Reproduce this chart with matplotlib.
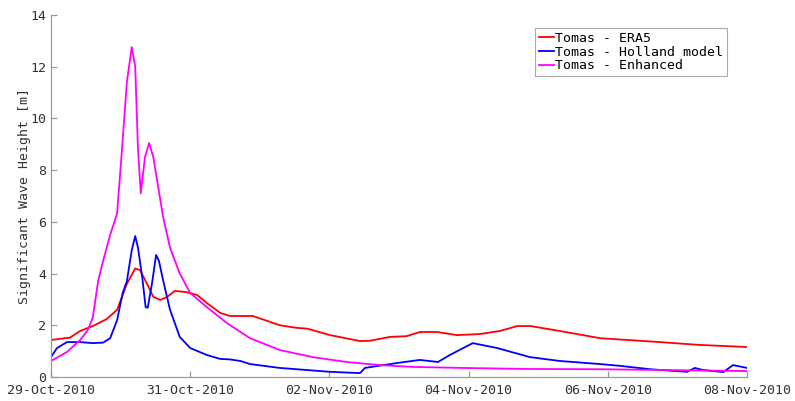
import matplotlib as mpl
mpl.use('Agg')
from matplotlib import pyplot as plt
import matplotlib.dates as mdates
import numpy as np
import datetime

# days since 29-Oct-2010 00:00
era5_t = [0, 0.20, 0.27, 0.42, 0.60, 0.80, 0.95, 1.09, 1.21, 1.28, 1.38, 1.47, 1.57, 1.67,
          1.78, 1.95, 2.10, 2.24, 2.43, 2.57, 2.90, 3.29, 3.53, 3.68, 4.01, 4.44, 4.58,
          4.87, 5.11, 5.30, 5.55, 5.83, 6.16, 6.45, 6.70, 6.89, 7.31, 7.89, 8.75, 9.32, 10.0]
era5_hs = [1.43, 1.5, 1.52, 1.78, 1.97, 2.24, 2.6, 3.6, 4.2, 4.13, 3.6, 3.1, 2.98, 3.1,
           3.33, 3.28, 3.17, 2.86, 2.48, 2.36, 2.36, 2.0, 1.9, 1.87, 1.62, 1.39, 1.4,
           1.55, 1.58, 1.74, 1.74, 1.62, 1.66, 1.78, 1.97, 1.97, 1.78, 1.5, 1.35, 1.24, 1.16]

holl_t = [0, 0.086, 0.23, 0.42, 0.60, 0.75, 0.85, 0.95, 1.03, 1.09, 1.16, 1.21, 1.25, 1.31,
          1.36, 1.39, 1.45, 1.51, 1.55, 1.61, 1.71, 1.85, 2.00, 2.24, 2.43, 2.57, 2.72,
          2.86, 3.29, 4.01, 4.44, 4.51, 4.58, 4.97, 5.30, 5.56, 5.73, 6.06, 6.41, 6.88,
          7.31, 7.89, 8.18, 8.61, 9.14, 9.25, 9.37, 9.66, 9.80, 10.0]
holl_hs = [0.77, 1.12, 1.35, 1.35, 1.31, 1.33, 1.5, 2.2, 3.25, 3.7, 4.9, 5.45, 5.0, 3.87,
           2.7, 2.68, 3.6, 4.72, 4.5, 3.75, 2.6, 1.55, 1.12, 0.85, 0.7, 0.68, 0.62,
           0.5, 0.35, 0.2, 0.15, 0.35, 0.38, 0.54, 0.66, 0.58, 0.85, 1.31, 1.12, 0.77,
           0.62, 0.5, 0.43, 0.3, 0.2, 0.35, 0.27, 0.19, 0.46, 0.35]

enh_t = [0, 0.23, 0.42, 0.53, 0.60, 0.68, 0.75, 0.85, 0.92, 0.95, 1.02, 1.09, 1.16, 1.21,
         1.25, 1.29, 1.35, 1.41, 1.47, 1.54, 1.61, 1.71, 1.85, 2.00, 2.24, 2.53, 2.86,
         3.00, 3.29, 3.76, 4.25, 4.73, 5.20, 5.92, 6.88, 7.89, 10.0]
enh_hs = [0.62, 0.97, 1.43, 1.82, 2.3, 3.75, 4.5, 5.5, 6.07, 6.34, 8.8, 11.4, 12.76, 12.0,
          8.8, 7.1, 8.5, 9.05, 8.5, 7.35, 6.2, 5.0, 4.0, 3.25, 2.7, 2.08, 1.5,
          1.35, 1.04, 0.77, 0.58, 0.46, 0.39, 0.35, 0.31, 0.3, 0.23]

labels = ['Tomas - ERA5', 'Tomas - Holland model', 'Tomas - Enhanced']

t0 = mdates.date2num(datetime.datetime(2010, 10, 29))

plt.rcParams['font.family'] = 'DejaVu Sans Mono'

fig = plt.figure(figsize=(7.95, 4.01), dpi=100)
ax = fig.add_axes([51/795, 1-377/401, (747-51)/795, (377-15)/401])

ax.plot(t0 + np.array(era5_t), era5_hs, color='#ff0000', lw=1.3, label=labels[0])
ax.plot(t0 + np.array(holl_t), holl_hs, color='#0000ff', lw=1.3, label=labels[1])
ax.plot(t0 + np.array(enh_t), enh_hs, color='#ff00ff', lw=1.3, label=labels[2])

ax.set_xlim(t0, t0 + 10)
ax.set_ylim(0, 14)
ax.set_xticks(t0 + np.arange(0, 11, 2))
ax.xaxis.set_major_formatter(mdates.DateFormatter('%d-%b-%Y'))
ax.set_yticks(np.arange(0, 15, 2))

for s in ['top', 'right']:
    ax.spines[s].set_visible(False)
for s in ['left', 'bottom']:
    ax.spines[s].set_color('#999999')
    ax.spines[s].set_linewidth(0.9)
ax.tick_params(direction='in', length=4, width=0.9, color='#999999',
               labelcolor='#333333', labelsize=9.5)
ax.tick_params(axis='x', pad=5)

ax.set_ylabel('Significant Wave Height [m]', color='#333333', fontsize=9.5, labelpad=-0.5)

leg = ax.legend(loc='upper right', bbox_to_anchor=(676/696, 1-13/362), fontsize=9.5,
                handlelength=1.1, handletextpad=0.1, borderpad=0.3, labelspacing=0.05,
                fancybox=False, framealpha=1, borderaxespad=0)
leg.get_frame().set_edgecolor('#aaaaaa')
leg.get_frame().set_linewidth(0.8)

plt.savefig('out.png', dpi=100)
plt.close()
